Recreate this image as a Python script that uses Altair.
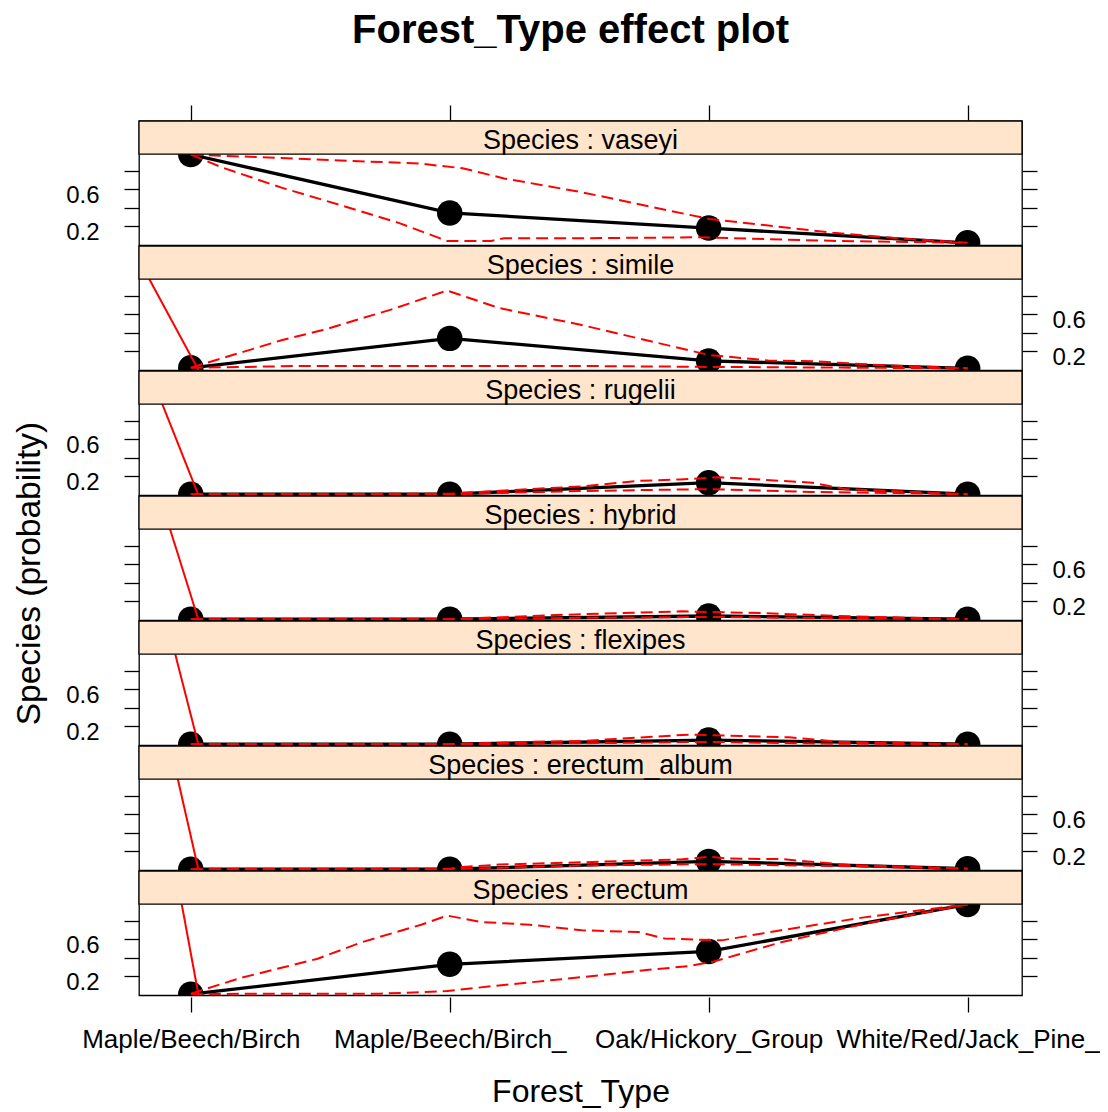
import json
import altair as alt
import pandas as pd

# ---------------- data ----------------
species = ["vaseyi", "simile", "rugelii", "hybrid", "flexipes", "erectum_album", "erectum"]
forest_types = ["Maple/Beech/Birch", "Maple/Beech/Birch_", "Oak/Hickory_Group", "White/Red/Jack_Pine_"]
cat_pos = [1, 2, 3, 4]

fit_vaseyi = [0.98, 0.345, 0.18, 0.02]
fit_simile = [0.02, 0.34, 0.095, 0.015]
fit_rugelii = [0.005, 0.005, 0.13, 0.005]
fit_hybrid = [0.005, 0.005, 0.04, 0.005]
fit_flexipes = [0.005, 0.005, 0.05, 0.005]
fit_erectum_album = [0.005, 0.005, 0.09, 0.01]
fit_erectum = [0.005, 0.33, 0.47, 0.98]

upper_x = {
    "vaseyi": [1.0, 1.54, 1.89, 2.05, 2.21, 2.51, 3.0, 3.48, 3.73, 4.0],
    "simile": [1.0, 1.35, 1.51, 1.77, 1.99, 2.19, 2.51, 3.0, 3.23, 3.41, 3.66, 4.0],
    "rugelii": [1.0, 2.0, 2.05, 2.31, 2.51, 2.73, 2.89, 3.04, 3.40, 3.53, 4.0],
    "hybrid": [1.0, 2.0, 2.51, 2.9, 3.22, 3.5, 4.0],
    "flexipes": [1.0, 2.0, 2.3, 2.51, 2.93, 3.06, 3.31, 3.51, 4.0],
    "erectum_album": [1.0, 2.0, 2.05, 2.19, 2.51, 2.74, 2.89, 3.0, 3.08, 3.28, 3.54, 3.69, 4.0],
    "erectum": [1.0, 1.19, 1.49, 1.66, 1.89, 1.99, 2.12, 2.31, 2.51, 2.73, 2.83, 3.05, 3.28, 3.60, 4.0],
}
upper_y = {
    "vaseyi": [0.98, 0.92, 0.88, 0.83, 0.72, 0.57, 0.28, 0.13, 0.07, 0.02],
    "simile": [0.02, 0.32, 0.43, 0.65, 0.86, 0.67, 0.485, 0.16, 0.10, 0.09, 0.05, 0.015],
    "rugelii": [0.005, 0.01, 0.02, 0.06, 0.09, 0.15, 0.165, 0.19, 0.13, 0.06, 0.005],
    "hybrid": [0.005, 0.005, 0.06, 0.09, 0.07, 0.04, 0.005],
    "flexipes": [0.005, 0.005, 0.03, 0.04, 0.11, 0.10, 0.08, 0.03, 0.005],
    "erectum_album": [0.005, 0.01, 0.03, 0.055, 0.08, 0.10, 0.11, 0.14, 0.12, 0.115, 0.05, 0.04, 0.01],
    "erectum": [0.01, 0.18, 0.39, 0.57, 0.76, 0.86, 0.79, 0.76, 0.70, 0.68, 0.61, 0.59, 0.70, 0.84, 0.98],
}
lower_x = {
    "vaseyi": [1.0, 1.12, 1.35, 1.59, 1.80, 1.99, 2.16, 2.21, 2.51, 2.96, 3.50, 4.0],
    "simile": [1.0, 1.22, 1.41, 2.51, 3.0, 4.0],
    "rugelii": [1.0, 2.0, 2.51, 3.0, 3.40, 4.0],
    "hybrid": [1.0, 2.0, 2.51, 3.0, 3.5, 4.0],
    "flexipes": [1.0, 2.0, 2.51, 3.0, 3.5, 4.0],
    "erectum_album": [1.0, 2.0, 2.51, 3.0, 3.5, 4.0],
    "erectum": [1.0, 1.26, 1.73, 1.99, 2.19, 2.51, 2.77, 2.92, 3.02, 3.28, 3.60, 4.0],
}
lower_y = {
    "vaseyi": [0.98, 0.84, 0.62, 0.42, 0.24, 0.04, 0.04, 0.07, 0.07, 0.08, 0.04, 0.02],
    "simile": [0.02, 0.03, 0.04, 0.04, 0.03, 0.015],
    "rugelii": [0.005, 0.005, 0.04, 0.06, 0.03, 0.005],
    "hybrid": [0.005, 0.005, 0.02, 0.03, 0.015, 0.005],
    "flexipes": [0.005, 0.005, 0.015, 0.03, 0.01, 0.005],
    "erectum_album": [0.005, 0.005, 0.045, 0.06, 0.04, 0.01],
    "erectum": [0.005, 0.01, 0.01, 0.04, 0.10, 0.19, 0.27, 0.31, 0.36, 0.57, 0.77, 0.98],
}
# stray red segment (drawn by the original plot) entering each panel
stray_x = {
    "simile": [0.84, 1.03],
    "rugelii": [0.89, 1.03],
    "hybrid": [0.92, 1.03],
    "flexipes": [0.94, 1.03],
    "erectum_album": [0.95, 1.03],
    "erectum": [0.965, 1.03],
}
stray_y = [0.983, -0.007]

fits = {
    "vaseyi": fit_vaseyi, "simile": fit_simile, "rugelii": fit_rugelii,
    "hybrid": fit_hybrid, "flexipes": fit_flexipes,
    "erectum_album": fit_erectum_album, "erectum": fit_erectum,
}

# ---------------- layout constants ----------------
X_DOM = [0.8, 4.21]
PLOT_TOP = 0.983
Y_DOM = [-0.007, 1.344]
W = 883
H = 124.3
FONT = "Liberation Sans"
STRIP_FILL = "#FFE5CC"

xscale = alt.Scale(domain=X_DOM, nice=False, zero=False)
yscale = alt.Scale(domain=Y_DOM, nice=False, zero=False)

label_arr = json.dumps(forest_types)


def y_axis(orient, show_labels, title=None):
    kw = dict(
        orient=orient, values=[0.2, 0.4, 0.6, 0.8], tickSize=15, tickWidth=1.3,
        tickColor="black", domain=False, grid=False, labelFontSize=24,
        labelFont=FONT, labelColor="black", labelOverlap=False, labelOffset=6,
        labelPadding=25 if orient == "left" else 15,
        labelExpr=("(datum.value == 0.2 || datum.value == 0.6) ? datum.label : ''"
                   if show_labels else "''"),
    )
    if title:
        kw.update(title=title, titleFontSize=33.5, titleFont=FONT, titleFontWeight="normal",
                  titleColor="black", titleX=-110, titleY=77, titleAngle=270,
                  titleAlign="center", titleBaseline="middle")
    else:
        kw.update(title=None)
    return alt.Axis(**kw)


def panel(i, sp):
    left_lab = (i % 2 == 0)

    fit_df = pd.DataFrame({"x": cat_pos, "y": fits[sp]})
    band_df = pd.concat([
        pd.DataFrame({"x": upper_x[sp], "y": upper_y[sp], "b": "upper"}),
        pd.DataFrame({"x": lower_x[sp], "y": lower_y[sp], "b": "lower"}),
    ])

    line = alt.Chart(fit_df).mark_line(color="black", strokeWidth=3.3, clip=True).encode(
        x=alt.X("x:Q", scale=xscale, axis=None),
        y=alt.Y("y:Q", scale=yscale,
                axis=y_axis("left", left_lab, "Species (probability)" if i == 3 else None)),
    )
    pts = alt.Chart(fit_df).mark_circle(color="black", size=650, opacity=1, clip=True).encode(
        x=alt.X("x:Q", scale=xscale, axis=None),
        y=alt.Y("y:Q", scale=yscale, axis=y_axis("right", not left_lab)),
    )
    bands = alt.Chart(band_df).mark_line(color="#FF0000", strokeWidth=2, strokeDash=[12, 6],
                                         clip=True).encode(
        x=alt.X("x:Q", scale=xscale, axis=None),
        y=alt.Y("y:Q", scale=yscale, axis=None),
        detail="b:N",
    )
    layers = [line, pts, bands]
    if sp in stray_x:
        stray_df = pd.DataFrame({"x": stray_x[sp], "y": stray_y})
        stray = alt.Chart(stray_df).mark_line(color="#FF0000", strokeWidth=2, clip=True).encode(
            x=alt.X("x:Q", scale=xscale, axis=None),
            y=alt.Y("y:Q", scale=yscale, axis=None),
        )
        layers.append(stray)

    strip_df = pd.DataFrame({"x": [X_DOM[0]], "x2": [X_DOM[1]], "y": [PLOT_TOP], "y2": [Y_DOM[1]],
                             "tx": [(X_DOM[0] + X_DOM[1]) / 2], "ty": [1.036],
                             "label": [f"Species : {sp}"]})
    strip = alt.Chart(strip_df).mark_rect(fill=STRIP_FILL, stroke="black", strokeWidth=1.3).encode(
        x=alt.X("x:Q", scale=xscale, axis=None), x2="x2:Q",
        y=alt.Y("y:Q", scale=yscale, axis=None), y2="y2:Q",
    )
    strip_txt = alt.Chart(strip_df).mark_text(fontSize=27, font=FONT, color="black",
                                              baseline="alphabetic", align="center").encode(
        x=alt.X("tx:Q", scale=xscale, axis=None),
        y=alt.Y("ty:Q", scale=yscale, axis=None),
        text="label:N",
    )
    layers += [strip, strip_txt]
    return alt.layer(*layers).resolve_axis(y="independent").properties(width=W, height=H)


tick_df = pd.DataFrame({"x": cat_pos})

top_axis = alt.Chart(tick_df).mark_point(opacity=0).encode(
    x=alt.X("x:Q", scale=xscale,
            axis=alt.Axis(orient="top", values=cat_pos, labels=False, tickSize=15,
                          tickWidth=1.3, tickColor="black", domain=False, grid=False,
                          title=None)),
).properties(width=W, height=1, view=alt.ViewBackground(stroke="transparent"))

bottom_axis = alt.Chart(tick_df).mark_point(opacity=0).encode(
    x=alt.X("x:Q", scale=xscale,
            axis=alt.Axis(orient="bottom", values=cat_pos, tickSize=15, tickWidth=1.3,
                          tickColor="black", domain=False, grid=False,
                          labelExpr=f"{label_arr}[datum.value - 1]", labelFontSize=26,
                          labelFont=FONT, labelColor="black", labelOverlap=False,
                          labelFlush=False, labelPadding=14, labelLimit=0,
                          title="Forest_Type", titleFontSize=32, titleFont=FONT,
                          titleFontWeight="normal", titleColor="black", titlePadding=24)),
).properties(width=W, height=1, view=alt.ViewBackground(stroke="transparent"))

panels = [panel(i, sp) for i, sp in enumerate(species)]

chart = alt.vconcat(top_axis, *panels, bottom_axis, spacing=0, bounds="flush").properties(
    title=alt.TitleParams("Forest_Type effect plot", fontSize=40, fontWeight="bold",
                          font=FONT, color="black", anchor="middle", offset=53, dx=15),
    padding={"left": 3, "top": 2, "right": 0, "bottom": 0},
).configure_view(stroke="black", strokeWidth=1.3).configure_axis(grid=False)

chart.save("out.html", embed_options={"renderer": "svg", "actions": False})
